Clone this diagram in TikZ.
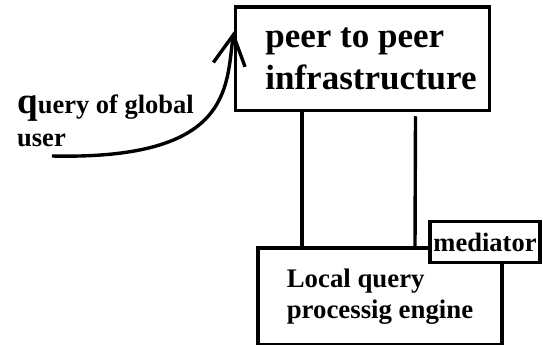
\documentclass[tikz,border=0pt]{standalone}
\usepackage{fontspec}
\setmainfont{Liberation Serif}
\usetikzlibrary{positioning,arrows.meta}
\tikzstyle{PeerBox}=[rectangle, draw, line width=3.4pt, minimum width=254pt, minimum height=103.5pt, align=left, font=\fontsize{35}{42}\selectfont\bfseries]
\tikzstyle{EngineBox}=[rectangle, draw, line width=3.4pt, minimum width=244pt, minimum height=97pt, align=left, font=\fontsize{26.8}{30.5}\selectfont\bfseries]
\tikzstyle{MediatorBox}=[rectangle, draw, fill=white, line width=3.4pt, minimum width=110pt, minimum height=41pt, inner xsep=1pt, font=\fontsize{26.5}{30}\selectfont\bfseries]
\tikzstyle{QueryText}=[inner sep=0pt, align=left, font=\fontsize{26.5}{33}\selectfont\bfseries]
\tikzstyle{Linea}=[line width=3.4pt]
\tikzstyle{Flecha}=[-{Straight Barb[length=30pt,width=32pt]}, line width=3.4pt]

\begin{document}
\begin{tikzpicture}[x=1pt, y=-1pt]
			\useasboundingbox (0,0) rectangle (543,345);
			%Nodos
			\node[PeerBox]		(p2p)		at (362.5,58.8)		{\hspace*{17pt}peer to peer\\\hspace*{17pt}infrastructure};
			\node[EngineBox]		(engine)	[below=134pt of p2p, xshift=17.5pt]	{Local query\\processig engine};
			\node[MediatorBox]	(mediator)	[anchor=south east] at ([xshift=38pt,yshift=-18pt]engine.north east)	{mediator};

			\node[QueryText]		(globalq)	[anchor=north west] at (17,95)	{{\fontsize{37}{33}\selectfont q}uery of global\\user};

			%Lineas
			\coordinate (qstart) at (52,156);
			\draw[Flecha] (qstart) .. controls (232,160) and (226,88) .. ([yshift=-26pt]p2p.north west);
			\draw[Linea] ([xshift=-60.5pt]p2p.south) -- ([xshift=-78pt]engine.north);
			\draw[Linea] ([xshift=53pt,yshift=-4pt]p2p.south) -- ([xshift=35pt]engine.north);

		\end{tikzpicture}
\end{document}
